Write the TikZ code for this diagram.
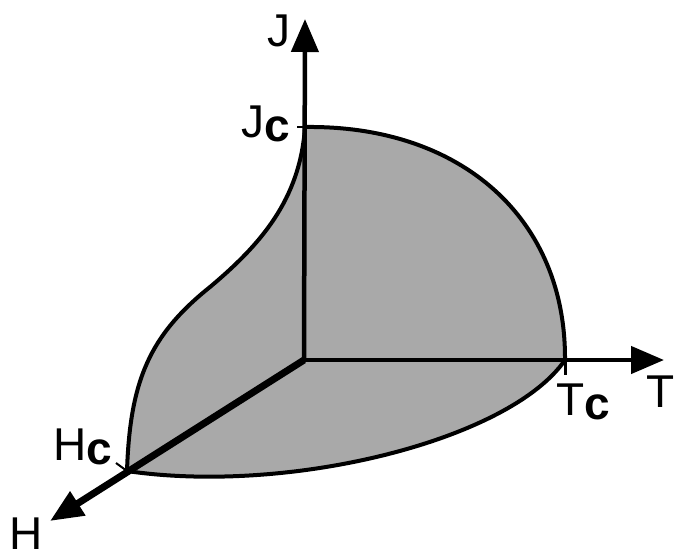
\documentclass[tikz,border=0pt]{standalone}
\usepackage{fontspec}
\setmainfont{Liberation Sans}
\usepackage{tikz}
\usetikzlibrary{arrows.meta}
\definecolor{SurfGrey}{HTML}{A9A9A9}
\newcommand{\lowc}{\raisebox{-4pt}{\textbf{c}}}

\begin{document}
\begin{tikzpicture}[
            x=1pt, y=-1pt,
            axis/.style={
                    line width=4.5pt,
                    -{Triangle[length=33pt, width=27pt]}
                },
            haxis/.style={axis, line width=7pt},
            surf/.style={
                    fill=SurfGrey,
                    draw=black,
                    line width=4pt,
                    line join=round
                },
            tick/.style={line width=2pt},
            lbl/.style={
                    inner sep=0pt,
                    font=\fontsize{46}{50}\selectfont
                },
        ]
        \useasboundingbox (0,0) rectangle (675,558);

        % Points
        \coordinate (O) at (304,360);
        \coordinate (Jtip) at (305,19);
        \coordinate (Ttip) at (664,360);
        \coordinate (Htip) at (50,521);
        \coordinate (Jc) at (305,127);
        \coordinate (Tc) at (565,360);
        \coordinate (Hc) at (127,471);

        % Critical surface
        \draw[surf] (Jc) .. controls (462,125) and (566,219) .. (Tc)
        .. controls (510,440) and (290,495) .. (Hc)
        .. controls (130,380) and (150,335) .. (210,287)
        .. controls (260,245) and (300,200) .. (Jc) -- cycle;

        % Axes
        \draw[axis] (O) -- (Jtip);
        \draw[axis] (O) -- (Ttip);
        \draw[haxis] (O) -- (Htip);

        % Ticks
        \draw[tick] (Jc) -- ++(-8,0);
        \draw[tick, line width=3pt] (Tc) -- ++(0,15);
        \draw[tick] (Hc) -- ++(-11,-8);

        % Labels
        \node[lbl, anchor=base east] (Jlab) at (291,46) {J};
        \node[lbl, anchor=base east] (Jclab) at (290,137) {J\lowc};
        \node[lbl, anchor=base west] (Tlab) at (646,407) {T};
        \node[lbl, anchor=base west] (Tclab) at (556,415) {T\lowc};
        \node[lbl, anchor=base west] (Hclab) at (53,460) {H\lowc};
        \node[lbl, anchor=base west] (Hlab) at (9,549) {H};

    \end{tikzpicture}
\end{document}
